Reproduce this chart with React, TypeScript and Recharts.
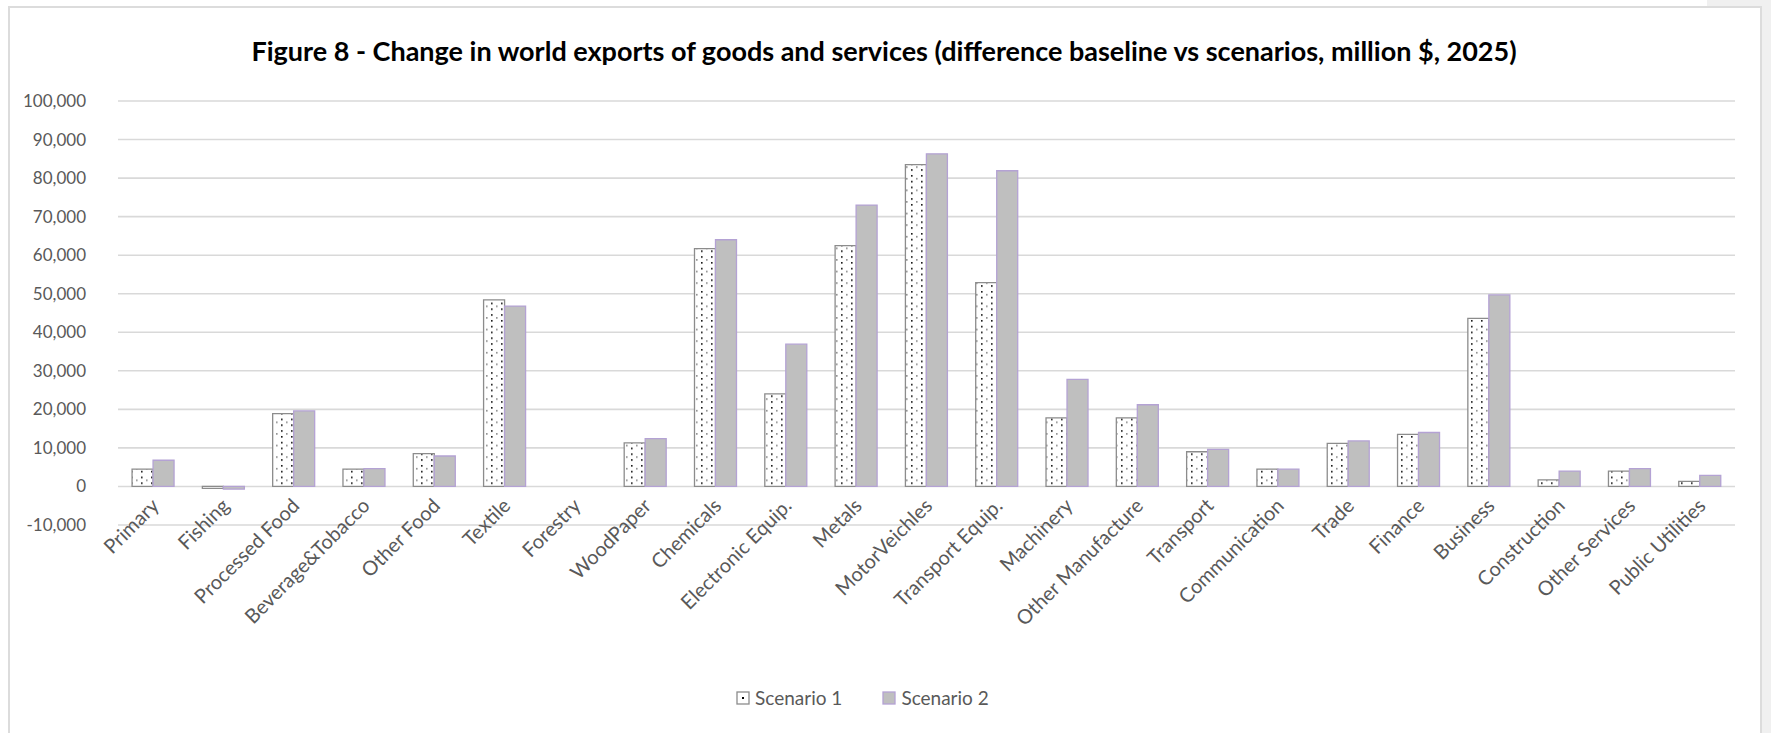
import React from 'react';
import { BarChart, Bar, XAxis, YAxis, CartesianGrid, Legend } from 'recharts';

const sectors = [
  'Primary', 'Fishing', 'Processed Food', 'Beverage&Tobacco', 'Other Food', 'Textile', 'Forestry',
  'WoodPaper', 'Chemicals', 'Electronic Equip.', 'Metals', 'MotorVeichles', 'Transport Equip.',
  'Machinery', 'Other Manufacture', 'Transport', 'Communication', 'Trade', 'Finance', 'Business',
  'Construction', 'Other Services', 'Public Utilities',
];
const scenario1 = [4500, -500, 18900, 4500, 8500, 48400, 0, 11300, 61700, 24000, 62500, 83500, 52900, 17800, 17800, 9000, 4500, 11200, 13500, 43600, 1700, 4000, 1300];
const scenario2 = [6800, -700, 19600, 4600, 7900, 46800, 0, 12400, 64000, 36900, 73000, 86300, 81900, 27800, 21200, 9600, 4500, 11800, 14000, 49700, 4000, 4600, 2900];
const yTicks = [-10000, 0, 10000, 20000, 30000, 40000, 50000, 60000, 70000, 80000, 90000, 100000];

const data = sectors.map((name, i) => ({ name, s1: scenario1[i], s2: scenario2[i] }));

const FONT = 'Lato, "Open Sans", sans-serif';
const GREY = '#595959';

// category labels sit just under the zero line, like Excel does
function SectorTick(props: any) {
  const { x, y, payload } = props;
  const tx = x - 3;
  const ty = y - 30;
  return (
    <text x={tx} y={ty} dy="0.71em" textAnchor="end" transform={`rotate(-45 ${tx} ${ty})`}
      fill={GREY} fontSize={20} fontFamily={FONT}>
      {payload.value}
    </text>
  );
}

function LegendBox() {
  return (
    <div style={{ display: 'flex', alignItems: 'center', fontFamily: FONT, fontSize: 19, color: GREY }}>
      <svg width={14} height={14} style={{ marginRight: 5 }}>
        <rect x={1} y={1} width={12} height={12} fill="#fff" stroke="#8c8c8c" strokeWidth={1.3} />
        <rect x={6} y={6} width={2} height={2} fill="#000" />
      </svg>
      <span>Scenario 1</span>
      <svg width={14} height={14} style={{ marginLeft: 40, marginRight: 5 }}>
        <rect x={1} y={1} width={12} height={12} fill="#bfbfbf" stroke="#b4a2d4" strokeWidth={1.3} />
      </svg>
      <span>Scenario 2</span>
    </div>
  );
}

export default function App() {
  return (
    <div style={{ position: 'relative', width: 1771, height: 733, background: '#fff', overflow: 'hidden', fontFamily: FONT }}>
      <style>{'body{margin:0}'}</style>
      <div style={{ position: 'absolute', left: 1707, top: 0, width: 64, height: 7, background: '#f0f0f0' }} />
      <div style={{ position: 'absolute', left: 1762, top: 0, width: 9, height: 733, background: '#f0f0f0' }} />
      <div style={{ position: 'absolute', left: 8, top: 6, width: 1750, height: 760, border: '2px solid #dcdcdc' }} />
      <div style={{
        position: 'absolute', left: 9, width: 1750, top: 34, textAlign: 'center',
        fontSize: 27, fontWeight: 700, color: '#000', fontFamily: FONT,
      }}>
        Figure 8 - Change in world exports of goods and services (difference baseline vs scenarios, million $, 2025)
      </div>
      <div style={{ position: 'absolute', left: 0, top: 0 }}>
        <BarChart width={1771} height={733} data={data}
          margin={{ top: 101, right: 36, left: 18, bottom: 57 }}
          barCategoryGap="20%" barGap={0}>
          <defs>
            <pattern id="dots" patternUnits="userSpaceOnUse" width={10} height={11.6}>
              <rect width={10} height={11.6} fill="#fff" />
              <rect x={1} y={1} width={1.6} height={1.6} fill="#111" />
              <rect x={1} y={6.8} width={1.6} height={1.6} fill="#111" />
              <rect x={6} y={3.9} width={1.6} height={1.6} fill="#8a8a8a" />
            </pattern>
          </defs>
          <CartesianGrid vertical={false} stroke="#d9d9d9" strokeWidth={1.6} />
          <XAxis dataKey="name" interval={0} axisLine={false} tickLine={false} tickSize={0}
            height={151} tick={<SectorTick />} />
          <YAxis width={100} domain={[-10000, 100000]} ticks={yTicks} interval={0}
            axisLine={false} tickLine={false} tickSize={0} tickMargin={32}
            tickFormatter={(v: number) => v.toLocaleString('en-US')}
            tick={{ fill: GREY, fontSize: 17, fontFamily: FONT }} />
          <Legend layout="horizontal" verticalAlign="middle" align="center"
            wrapperStyle={{ top: 686, left: 736, width: 320, height: 24 }}
            content={() => <LegendBox />} />
          <Bar dataKey="s1" name="Scenario 1" fill="url(#dots)" stroke="#8c8c8c" strokeWidth={1.3} isAnimationActive={false} />
          <Bar dataKey="s2" name="Scenario 2" fill="#bfbfbf" stroke="#b4a2d4" strokeWidth={1.3} isAnimationActive={false} />
        </BarChart>
      </div>
    </div>
  );
}
